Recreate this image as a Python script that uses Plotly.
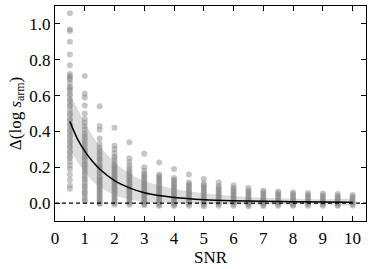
import plotly.graph_objects as go

# ---- data ----
snr_levels = [0.5, 1.0, 1.5, 2.0, 2.5, 3.0, 3.5, 4.0, 4.5, 5.0,
              5.5, 6.0, 6.5, 7.0, 7.5, 8.0, 8.5, 9.0, 9.5, 10.0]

col_05 = [1.06, 0.97, 0.96, 0.90, 0.83, 0.77, 0.72, 0.71, 0.70, 0.69, 0.67, 0.65, 0.64, 0.63,
          0.61, 0.60, 0.58, 0.57, 0.55, 0.54, 0.52, 0.50, 0.49, 0.47, 0.46, 0.44, 0.43, 0.41,
          0.40, 0.38, 0.37, 0.35, 0.34, 0.32, 0.31, 0.29, 0.28, 0.26, 0.25, 0.23, 0.21, 0.19,
          0.16, 0.13, 0.10, 0.08]
col_10 = [0.71, 0.61, 0.59, 0.545, 0.50, 0.47, 0.45, 0.43, 0.41, 0.39, 0.375, 0.36, 0.345,
          0.33, 0.315, 0.30, 0.29, 0.275, 0.26, 0.25, 0.235, 0.22, 0.21, 0.195, 0.18, 0.17,
          0.155, 0.14, 0.13, 0.115, 0.10, 0.09, 0.075, 0.06, 0.05, 0.035, 0.02, 0.01]
col_15 = [0.54, 0.43, 0.41, 0.36, 0.33, 0.31, 0.295, 0.28, 0.265, 0.25, 0.24, 0.225, 0.21,
          0.20, 0.19, 0.175, 0.165, 0.15, 0.14, 0.13, 0.12, 0.11, 0.10, 0.09, 0.08, 0.07,
          0.06, 0.05, 0.04, 0.03, 0.02, 0.01, 0.0, -0.005]
col_20 = [0.42, 0.32, 0.30, 0.28, 0.26, 0.25, 0.235, 0.22, 0.21, 0.20, 0.19, 0.18, 0.17,
          0.16, 0.15, 0.14, 0.13, 0.12, 0.11, 0.10, 0.09, 0.08, 0.07, 0.06, 0.05, 0.04,
          0.03, 0.02, 0.01, 0.0, -0.01]
col_25 = [0.34, 0.25, 0.23, 0.21, 0.195, 0.18, 0.17, 0.16, 0.15, 0.14, 0.13, 0.12, 0.11,
          0.10, 0.09, 0.08, 0.07, 0.06, 0.05, 0.04, 0.03, 0.02, 0.01, 0.0, -0.01]
col_30 = [0.275, 0.20, 0.18, 0.165, 0.155, 0.145, 0.135, 0.125, 0.115, 0.105, 0.095, 0.085,
          0.075, 0.065, 0.055, 0.045, 0.035, 0.025, 0.015, 0.005, -0.005, -0.012]
col_35 = [0.227, 0.16, 0.15, 0.14, 0.13, 0.12, 0.11, 0.10, 0.09, 0.08, 0.07, 0.06, 0.05,
          0.04, 0.03, 0.02, 0.01, 0.0, -0.01, -0.015]
col_40 = [0.19, 0.14, 0.13, 0.12, 0.11, 0.10, 0.09, 0.08, 0.07, 0.06, 0.05, 0.04, 0.03,
          0.02, 0.01, 0.0, -0.01, -0.015]
col_45 = [0.16, 0.115, 0.105, 0.095, 0.085, 0.075, 0.065, 0.055, 0.045, 0.035, 0.025,
          0.015, 0.005, -0.005, -0.015]
col_50 = [0.135, 0.11, 0.10, 0.09, 0.08, 0.07, 0.06, 0.05, 0.04, 0.03, 0.02, 0.01, 0.0,
          -0.01, -0.018]
col_55 = [0.115, 0.095, 0.085, 0.075, 0.065, 0.055, 0.045, 0.035, 0.025, 0.015, 0.005,
          -0.005, -0.015]
col_60 = [0.10, 0.085, 0.075, 0.065, 0.055, 0.045, 0.035, 0.025, 0.015, 0.005, -0.005, -0.015]
col_65 = [0.084, 0.07, 0.06, 0.05, 0.04, 0.03, 0.02, 0.01, 0.0, -0.01, -0.018]
col_70 = [0.07, 0.06, 0.05, 0.04, 0.03, 0.02, 0.01, 0.0, -0.01, -0.016]
col_75 = [0.065, 0.055, 0.045, 0.035, 0.025, 0.015, 0.005, -0.005, -0.015]
col_80 = [0.06, 0.05, 0.04, 0.03, 0.02, 0.01, 0.0, -0.01, -0.015]
col_85 = [0.056, 0.045, 0.035, 0.025, 0.015, 0.005, -0.005, -0.015]
col_90 = [0.053, 0.043, 0.033, 0.023, 0.013, 0.003, -0.007, -0.015]
col_95 = [0.05, 0.04, 0.03, 0.02, 0.01, 0.0, -0.01, -0.015]
col_100 = [0.045, 0.035, 0.025, 0.015, 0.005, -0.005, -0.014]

columns = [col_05, col_10, col_15, col_20, col_25, col_30, col_35, col_40, col_45, col_50,
           col_55, col_60, col_65, col_70, col_75, col_80, col_85, col_90, col_95, col_100]

curve_x = [0.5, 0.75, 1.0, 1.25, 1.5, 2.0, 2.5, 3.0, 3.5, 4.0, 5.0, 6.0, 7.0, 8.0, 9.0, 10.0]
curve_y = [0.456, 0.36, 0.29, 0.235, 0.19, 0.125, 0.085, 0.058, 0.042, 0.031, 0.019, 0.013,
           0.010, 0.008, 0.006, 0.005]
band_upper = [0.60, 0.53, 0.45, 0.38, 0.32, 0.23, 0.165, 0.125, 0.10, 0.08, 0.055, 0.04,
              0.03, 0.025, 0.02, 0.018]
band_lower = [0.30, 0.23, 0.175, 0.125, 0.09, 0.045, 0.02, 0.008, 0.003, 0.0, -0.005, -0.008,
              -0.008, -0.008, -0.007, -0.006]

x_ticks = list(range(0, 11))
y_ticks = [0.0, 0.2, 0.4, 0.6, 0.8, 1.0]

# ---- figure ----
pts_x, pts_y = [], []
for s, col in zip(snr_levels, columns):
    pts_x += [s] * len(col)
    pts_y += col

fig = go.Figure()
fig.add_trace(go.Scatter(
    x=curve_x + curve_x[::-1], y=band_upper + band_lower[::-1],
    fill="toself", fillcolor="rgba(150,150,150,0.32)", line=dict(width=0),
    mode="lines", hoverinfo="skip", line_shape="spline"))
fig.add_trace(go.Scatter(
    x=pts_x, y=pts_y, mode="markers",
    marker=dict(size=6, color="rgba(128,128,128,0.45)", line=dict(width=0))))
fig.add_trace(go.Scatter(
    x=curve_x, y=curve_y, mode="lines", line=dict(color="black", width=1.5, shape="spline")))

fig.add_shape(type="line", xref="x domain", yref="y", x0=0, x1=1, y0=0, y1=0,
              line=dict(color="black", width=1.2, dash="4px,3px"), layer="above")

font = dict(family="Liberation Serif", size=17, color="black")
axis_common = dict(showline=True, linecolor="black", linewidth=1.3, mirror="ticks",
                   ticks="inside", ticklen=5, tickwidth=1, tickcolor="black",
                   showgrid=False, zeroline=False, tickfont=font, automargin=False)

fig.update_layout(
    width=374, height=269, showlegend=False,
    margin=dict(l=55, r=8, t=6, b=48),
    paper_bgcolor="white", plot_bgcolor="white", font=font,
    xaxis=dict(range=[0, 10.45], tickvals=x_ticks, ticklabelstandoff=1,
               title=dict(text="SNR", font=font, standoff=0), **axis_common),
    yaxis=dict(range=[-0.1, 1.1], tickvals=y_ticks, tickformat=".1f",
               title=dict(text="Δ(log <i>s</i><sub>arm</sub>)", font=font, standoff=3),
               **axis_common),
)

fig.write_html("out.html", config={"displayModeBar": False},
               post_script="document.body.style.margin='0';")
